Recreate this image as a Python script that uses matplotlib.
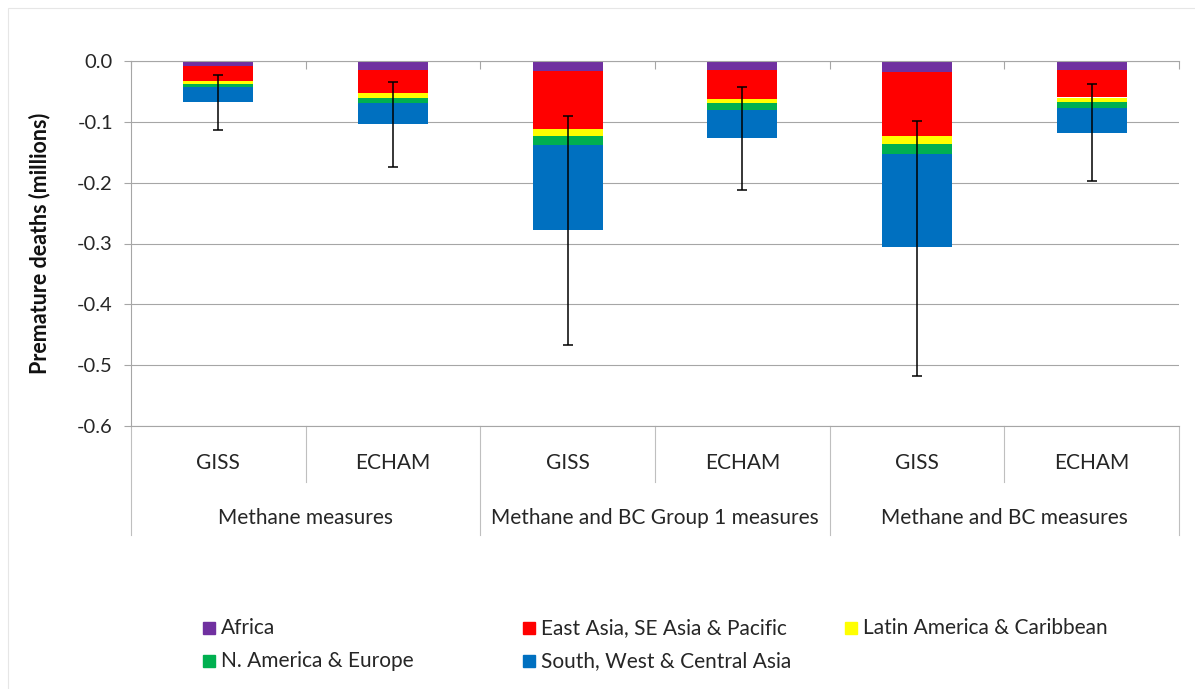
import numpy as np
import matplotlib

matplotlib.use('Agg')
from matplotlib import pyplot as plt
from matplotlib.patches import Rectangle

plt.rcParams['font.family'] = ['Lato', 'DejaVu Sans']

# models within each group of measures
models = ['GISS', 'ECHAM', 'GISS', 'ECHAM', 'GISS', 'ECHAM']
groups = ['Methane measures', 'Methane and BC Group 1 measures', 'Methane and BC measures']

# premature deaths (millions), stacked from the top down
africa = [-0.008, -0.015, -0.016, -0.014, -0.0175, -0.014]
east_asia = [-0.025, -0.038, -0.095, -0.048, -0.1055, -0.046]
latin_am = [-0.004, -0.007, -0.012, -0.0075, -0.0135, -0.0075]
n_am_eu = [-0.006, -0.0095, -0.015, -0.0105, -0.0165, -0.0105]
south_asia = [-0.025, -0.0345, -0.139, -0.047, -0.153, -0.040]

# error bar range (upper and lower end)
err_hi = [-0.0225, -0.035, -0.090, -0.042, -0.099, -0.038]
err_lo = [-0.113, -0.174, -0.467, -0.2115, -0.518, -0.197]

yticks = [-0.6, -0.5, -0.4, -0.3, -0.2, -0.1, 0.0]
ytick_labels = ['-0.6', '-0.5', '-0.4', '-0.3', '-0.2', '-0.1', '0.0']

regions = ['Africa', 'East Asia, SE Asia & Pacific', 'Latin America & Caribbean',
           'N. America & Europe', 'South, West & Central Asia']
colors = ['#7030A0', '#FF0000', '#FFFF00', '#00B050', '#0070C0']

fig = plt.figure(figsize=(11.95, 6.89), dpi=100)
ax = fig.add_axes([131 / 1195, 1 - 426 / 689, (1179 - 131) / 1195, 365 / 689])

x = np.arange(len(models))
bottom = np.zeros(len(models))
for vals, c, lab in zip([africa, east_asia, latin_am, n_am_eu, south_asia], colors, regions):
    ax.bar(x, vals, width=0.4, bottom=bottom, color=c, label=lab, zorder=2)
    bottom += np.array(vals)

hi = np.array(err_hi)
lo = np.array(err_lo)
ax.errorbar(x, (hi + lo) / 2, yerr=(hi - lo) / 2, fmt='none', ecolor='black',
            elinewidth=1.1, capsize=3.5, capthick=1.1, zorder=3)

ax.set_xlim(-0.5, 5.5)
ax.set_ylim(-0.6, 0)
ax.set_yticks(yticks)
ax.set_yticklabels(ytick_labels)
ax.yaxis.grid(True, color='#A6A6A6', linewidth=0.8, zorder=0)
ax.tick_params(axis='y', length=5, color='#A6A6A6', width=0.8, labelsize=14.5,
               labelcolor='#262626', pad=8)
ax.xaxis.set_ticks_position('top')
ax.set_xticks(np.arange(-0.5, 5.6, 1))
ax.tick_params(axis='x', direction='in', length=6, color='#A6A6A6', width=0.8,
               labeltop=False, labelbottom=False)
for s in ['top', 'bottom', 'left', 'right']:
    ax.spines[s].set_color('#A6A6A6')
    ax.spines[s].set_linewidth(0.8)
ax.spines['right'].set_visible(False)
ax.set_ylabel('Premature deaths (millions)', fontsize=15.5, fontweight='bold',
              color='#111111')
ax.yaxis.set_label_coords(-81 / 1048, 0.5)

# multi-level category labels below the plot
trans = ax.get_xaxis_transform()
for i, m in enumerate(models):
    ax.text(i, -0.101, m, transform=trans, ha='center', va='center', fontsize=15,
            color='#262626')
for j, g in enumerate(groups):
    ax.text(2 * j + 0.5, -0.252, g, transform=trans, ha='center', va='center',
            fontsize=15, color='#262626')
for b in [0.5, 2.5, 4.5]:
    ax.plot([b, b], [0, -0.153], transform=trans, color='#BFBFBF', lw=0.8, clip_on=False)
for b in [-0.5, 1.5, 3.5, 5.5]:
    ax.plot([b, b], [0, -0.299], transform=trans, color='#BFBFBF', lw=0.8, clip_on=False)

# legend laid out like the original (row-major, fixed columns)
leg_pos = [(203, 628), (523, 628), (845, 628), (203, 661), (523, 661)]
for (px, py), c, lab in zip(leg_pos, colors, regions):
    fig.patches.append(Rectangle((px / 1195, 1 - (py + 6) / 689), 12 / 1195, 12 / 689,
                                 transform=fig.transFigure, color=c))
    fig.text((px + 18) / 1195, 1 - py / 689, lab, ha='left', va='center', fontsize=15,
             color='#262626')

fig.patches.append(Rectangle((8 / 1195, -0.1), 1.2, 1.1 - 8 / 689, transform=fig.transFigure,
                             fill=False, edgecolor='#E6E6E6', lw=0.8))

fig.savefig('out.png', dpi=100)
